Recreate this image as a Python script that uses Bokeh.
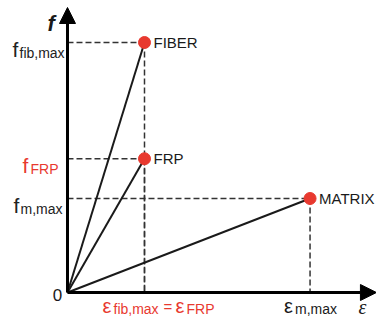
from bokeh.plotting import figure
from bokeh.models import Range1d, Arrow, NormalHead
from bokeh.core.properties import value
from bokeh.embed import file_html
from bokeh.resources import INLINE

# ---- data ----
materials = ["FIBER", "FRP", "MATRIX"]
eps_ult = [1.0, 1.0, 3.15]          # ultimate strain (relative)
f_ult = [1.0, 0.535, 0.376]         # ultimate stress (relative)

y_tick_main = ["f", "f", "f"]
y_tick_sub = ["fib,max", "FRP", "m,max"]
y_tick_color = ["#222222", "#e8392f", "#222222"]

x_tick_pos = [1.0, 3.15]
axis_x_end = 4.012
axis_y_end = 1.14

RED = "#e8392f"
BLACK = "#1a1a1a"
FONT = value("Liberation Sans")

p = figure(width=376, height=318, output_backend="svg", toolbar_location=None,
           x_range=Range1d(-0.8701, 4.0130), y_range=Range1d(-0.104, 1.168),
           x_axis_type=None, y_axis_type=None, min_border=0)
p.grid.visible = False
p.outline_line_color = None
p.background_fill_color = "white"
p.border_fill_color = "white"

# dashed guide lines
p.segment(x0=[0] * 3, y0=f_ult, x1=eps_ult, y1=f_ult, line_color="#333333",
          line_width=1.5, line_dash="6 3")
p.segment(x0=eps_ult, y0=f_ult, x1=eps_ult, y1=[0] * 3, line_color="#333333",
          line_width=1.5, line_dash="6 3")

# stress-strain lines
p.segment(x0=[0] * 3, y0=[0] * 3, x1=eps_ult, y1=f_ult, line_color=BLACK, line_width=2)

# axes with arrows
p.add_layout(Arrow(end=NormalHead(size=16, fill_color="black", line_color="black"),
                   x_start=0, y_start=0, x_end=0, y_end=axis_y_end,
                   line_width=3, line_color="black"))
p.add_layout(Arrow(end=NormalHead(size=16, fill_color="black", line_color="black"),
                   x_start=0, y_start=0, x_end=axis_x_end, y_end=0,
                   line_width=3, line_color="black"))

# points
p.scatter(x=eps_ult, y=f_ult, size=12, fill_color=RED, line_color=RED)

# point labels
p.text(x=eps_ult, y=f_ult, text=materials, x_offset=9, y_offset=0,
       text_font=FONT, text_font_size="15px", text_color=BLACK,
       text_align="left", text_baseline="middle")


def txt(x, y, t, dx, dy, size, color, style="normal", font=FONT):
    p.text(x=[x], y=[y], text=[t], x_offset=dx, y_offset=dy, text_font=font,
           text_font_size=size, text_color=color, text_font_style=style,
           text_align="left", text_baseline="alphabetic")


# y tick labels
main_dx = [-55, -45, -54]
sub_dx = [-48, -37, -47]
for fv, m, s, c, mdx, sdx in zip(f_ult, y_tick_main, y_tick_sub, y_tick_color, main_dx, sub_dx):
    txt(0, fv, m, mdx, 7, "21px", c)
    txt(0, fv, s, sdx, 10, "14px", c)

# origin
p.text(x=[0], y=[0], text=["0"], x_offset=-10, y_offset=2, text_font=FONT,
       text_font_size="17px", text_color=BLACK, text_align="center", text_baseline="middle")

# x tick labels
txt(x_tick_pos[0], 0, "\u03b5", -42, 13, "20px", RED)
txt(x_tick_pos[0], 0, "fib,max", -31, 16, "14px", RED)
txt(x_tick_pos[0], 0, "=", 19, 14, "15px", RED)
txt(x_tick_pos[0], 0, "\u03b5", 31, 13, "20px", RED)
txt(x_tick_pos[0], 0, "FRP", 42, 16, "14px", RED)
txt(x_tick_pos[1], 0, "\u03b5", -26, 13, "20px", BLACK)
txt(x_tick_pos[1], 0, "m,max", -15, 16, "14px", BLACK)

# axis titles
txt(axis_x_end, 0, "\u03b5", -18, 14, "20px", BLACK, style="italic",
    font=value("Liberation Serif"))
txt(0, axis_y_end, "f", -20, 16, "22px", BLACK, style="bold italic")

open("out.html", "w").write(file_html(p, INLINE))
